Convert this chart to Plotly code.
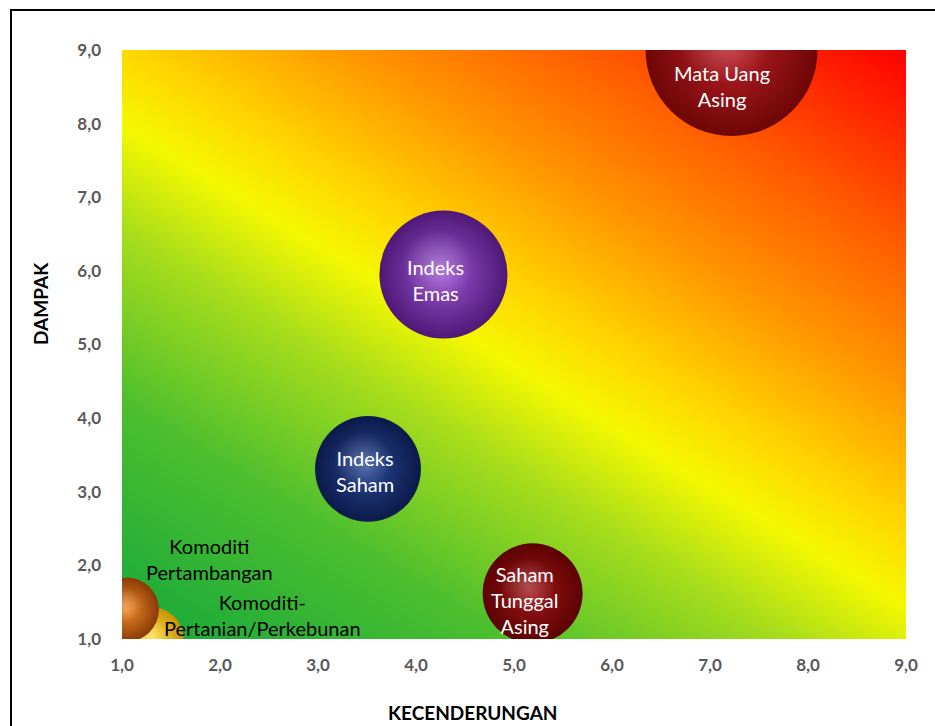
import numpy as np
import plotly.graph_objects as go

# ---- data ----
names = ["Komoditi-<br>Pertanian/Perkebunan", "Komoditi<br>Pertambangan", "Mata Uang<br>Asing",
         "Indeks<br>Emas", "Indeks<br>Saham", "Saham<br>Tunggal<br>Asing"]
kecenderungan = [1.30, 1.05, 7.22, 4.28, 3.51, 5.19]
dampak = [1.00, 1.40, 9.00, 5.95, 3.31, 1.62]
bubble_size = [4.1, 4.1, 29.6, 16.4, 11.2, 10.0]
x_ticks = [1, 2, 3, 4, 5, 6, 7, 8, 9]
y_ticks = [1, 2, 3, 4, 5, 6, 7, 8, 9]

# ---- styles ----
edge_colors = ["#c99200", "#8a3a06", "#6e0606", "#4e1877", "#0b1a4a", "#5c0202"]
center_colors = ["#ffe14a", "#ec8a2a", "#b82028", "#9a55d0", "#284690", "#9e161a"]
label_colors = ["black", "black", "white", "white", "white", "white"]
label_shift_x = [111, 83, -10, -8, -3, -8]
label_shift_y = [24, 51, -36, -5, -2, -7]
SIZEREF = 0.002

W, H = 935, 726
L, R, T, B = 122, 29, 50, 87
pw, ph = W - L - R, H - T - B
px_per_x = pw / 8.0
px_per_y = ph / 8.0

fig = go.Figure()

# background gradient (diagonal green -> yellow -> red)
gx = np.linspace(0.9, 9.1, 160)
gy = np.linspace(0.9, 9.1, 160)
XX, YY = np.meshgrid(gx, gy)
tt = 0.45 * (XX - 1) / 8 + 0.55 * (YY - 1) / 8
fig.add_trace(go.Heatmap(
    x=gx, y=gy, z=tt, zsmooth="best", showscale=False, hoverinfo="skip",
    zmin=0, zmax=1,
    colorscale=[[0.0, "#14a83c"], [0.22, "#4cbe2e"], [0.38, "#a6dc1c"],
                [0.48, "#f4f800"], [0.55, "#ffd800"], [0.68, "#ff9600"],
                [0.82, "#ff5a00"], [1.0, "#ff0000"]]))

for i in range(len(names)):
    fig.add_trace(go.Scatter(
        x=[kecenderungan[i]], y=[dampak[i]], mode="markers",
        marker=dict(size=[bubble_size[i]], sizemode="area", sizeref=SIZEREF,
                    color=edge_colors[i], line=dict(width=0),
                    gradient=dict(type="radial", color=center_colors[i]),
                    opacity=1),
        hoverinfo="skip", showlegend=False, cliponaxis=True))
    # specular highlight, placed relative to the bubble through the axis scales
    d = np.sqrt(bubble_size[i] / SIZEREF) / np.sqrt(2)
    r = d / 2
    hx = kecenderungan[i] - 0.18 * r / px_per_x
    hy = dampak[i] + 0.30 * r / px_per_y
    fig.add_trace(go.Scatter(
        x=[hx], y=[hy], mode="markers",
        marker=dict(size=[bubble_size[i] * 0.30], sizemode="area", sizeref=SIZEREF,
                    color="rgba(255,255,255,0)", line=dict(width=0),
                    gradient=dict(type="radial", color="rgba(255,255,255,0.35)")),
        hoverinfo="skip", showlegend=False, cliponaxis=True))

for i in range(len(names)):
    fig.add_annotation(x=kecenderungan[i], y=dampak[i], text=names[i], showarrow=False,
                       xshift=label_shift_x[i], yshift=label_shift_y[i],
                       font=dict(family="Lato", size=20, color=label_colors[i]))

# axis titles
fig.add_annotation(xref="paper", yref="paper", x=(472 - L) / pw, y=(639 - 712) / ph,
                   xanchor="center", yanchor="middle",
                   text="KECENDERUNGAN", showarrow=False,
                   font=dict(family="Lato", size=19, color="black", weight="bold"))
fig.add_annotation(xref="paper", yref="paper", x=(40 - L) / pw, y=(639 - 304) / ph,
                   xanchor="center", yanchor="middle",
                   text="DAMPAK", showarrow=False, textangle=-90,
                   font=dict(family="Lato", size=19, color="black", weight="bold"))

# chart border
fig.add_shape(type="rect", xref="paper", yref="paper",
              x0=(11 - L) / pw, x1=(960 - L) / pw, y0=(639 - 760) / ph, y1=(639 - 10) / ph,
              line=dict(color="black", width=2), fillcolor="rgba(0,0,0,0)", layer="below")

tickfont = dict(family="Lato", size=17, color="#595959", weight="bold")
fig.update_xaxes(range=[1, 9], tickvals=x_ticks, tickformat=".1f", showgrid=False,
                 zeroline=False, showline=False, ticks="", ticklabelstandoff=14,
                 tickfont=tickfont)
fig.update_yaxes(range=[1, 9], tickvals=y_ticks, tickformat=".1f", showgrid=False,
                 zeroline=False, showline=False, ticks="", ticklabelstandoff=20,
                 tickfont=tickfont)

fig.update_layout(width=W, height=H, margin=dict(l=L, r=R, t=T, b=B, autoexpand=False),
                  paper_bgcolor="white", plot_bgcolor="white", separators=",.",
                  showlegend=False)

fig.write_html("out.html")
